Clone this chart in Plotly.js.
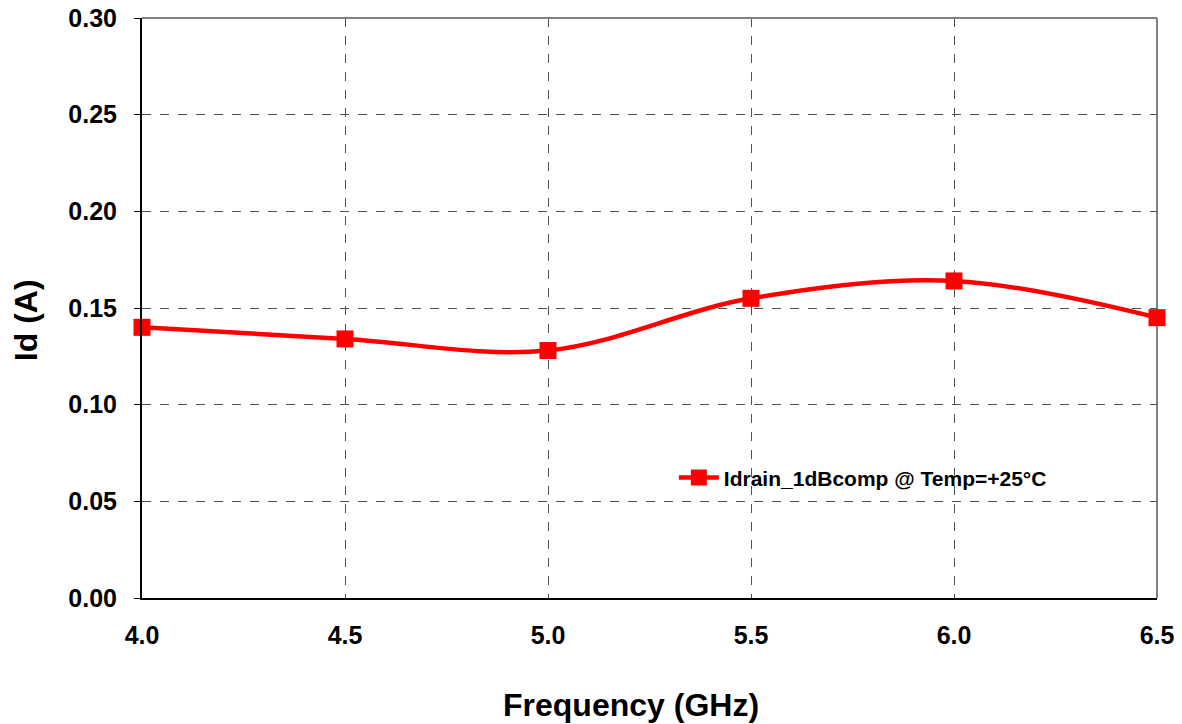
<!DOCTYPE html>
<html>
<head>
<meta charset="utf-8">
<script src="https://cdn.plot.ly/plotly-3.0.1.min.js"></script>
<style>html,body{margin:0;padding:0;background:#fff;}#chart{width:1182px;height:724px;}</style>
</head>
<body>
<div id="chart"></div>
<script>
const freq = [4.0, 4.5, 5.0, 5.5, 6.0, 6.5];
const idrain = [0.140, 0.134, 0.128, 0.155, 0.164, 0.145];
const seriesName = "Idrain_1dBcomp @ Temp=+25°C";
const xTicks = [4.0, 4.5, 5.0, 5.5, 6.0, 6.5];
const xTickText = ["4.0", "4.5", "5.0", "5.5", "6.0", "6.5"];
const yTicks = [0.00, 0.05, 0.10, 0.15, 0.20, 0.25, 0.30];
const yTickText = ["0.00", "0.05", "0.10", "0.15", "0.20", "0.25", "0.30"];
const xTitle = "Frequency (GHz)";
const yTitle = "Id (A)";

const fontFam = "Liberation Sans, Arial, sans-serif";

const trace = {
  x: freq, y: idrain, name: seriesName, type: "scatter", mode: "lines+markers",
  line: {color: "#ff0000", width: 4.5, shape: "spline", smoothing: 1},
  marker: {symbol: "square", size: 17, color: "#ff0000"},
  cliponaxis: false
};

const titleFont = {family: fontFam, size: 32, color: "#000", weight: 700};

const layout = {
  width: 1182, height: 724,
  margin: {l: 142, r: 25, t: 18, b: 126},
  paper_bgcolor: "#fff", plot_bgcolor: "#fff",
  showlegend: true,
  legend: {
    x: 0.524, y: 0.207, xanchor: "left", yanchor: "middle",
    bgcolor: "rgba(255,255,255,0)", borderwidth: 0,
    font: {family: fontFam, size: 21, color: "#000", weight: 700},
    itemwidth: 40
  },
  xaxis: {
    range: [4.0, 6.5], tickvals: xTicks, ticktext: xTickText,
    showgrid: true, gridcolor: "#505050", griddash: "dash", gridwidth: 1,
    showline: true, linecolor: "#000", linewidth: 2, mirror: false,
    ticks: "", zeroline: false,
    tickfont: {family: fontFam, size: 25, color: "#000", weight: 700},
    ticklabelstandoff: 14
  },
  yaxis: {
    range: [0, 0.30], tickvals: yTicks, ticktext: yTickText,
    showgrid: true, gridcolor: "#505050", griddash: "dash", gridwidth: 1,
    showline: true, linecolor: "#000", linewidth: 2, mirror: false,
    ticks: "outside", ticklen: 6, tickcolor: "#000", tickwidth: 1, zeroline: false,
    tickfont: {family: fontFam, size: 25, color: "#000", weight: 700},
    ticklabelstandoff: 12
  },
  annotations: [
    {text: xTitle, xref: "paper", yref: "paper", x: 0.4818, y: -0.184, xanchor: "center", yanchor: "middle", showarrow: false, font: titleFont},
    {text: yTitle, xref: "paper", yref: "paper", x: -0.1143, y: 0.479, xanchor: "center", yanchor: "middle", textangle: -90, showarrow: false, font: titleFont}
  ],
  shapes: [
    {type: "line", xref: "paper", yref: "paper", x0: 0, x1: 1, y0: 1, y1: 1, line: {color: "#808080", width: 2}, layer: "above"},
    {type: "line", xref: "paper", yref: "paper", x0: 1, x1: 1, y0: 0, y1: 1, line: {color: "#808080", width: 2}, layer: "below"},
    {type: "rect", xref: "paper", yref: "paper", x0: 0.461, x1: 0.954, y0: 0.083, y1: 0.323, fillcolor: "#fff", line: {width: 0}, layer: "between"}
  ]
};

Plotly.newPlot("chart", [trace], layout, {displayModeBar: false, staticPlot: true});
</script>
</body>
</html>
